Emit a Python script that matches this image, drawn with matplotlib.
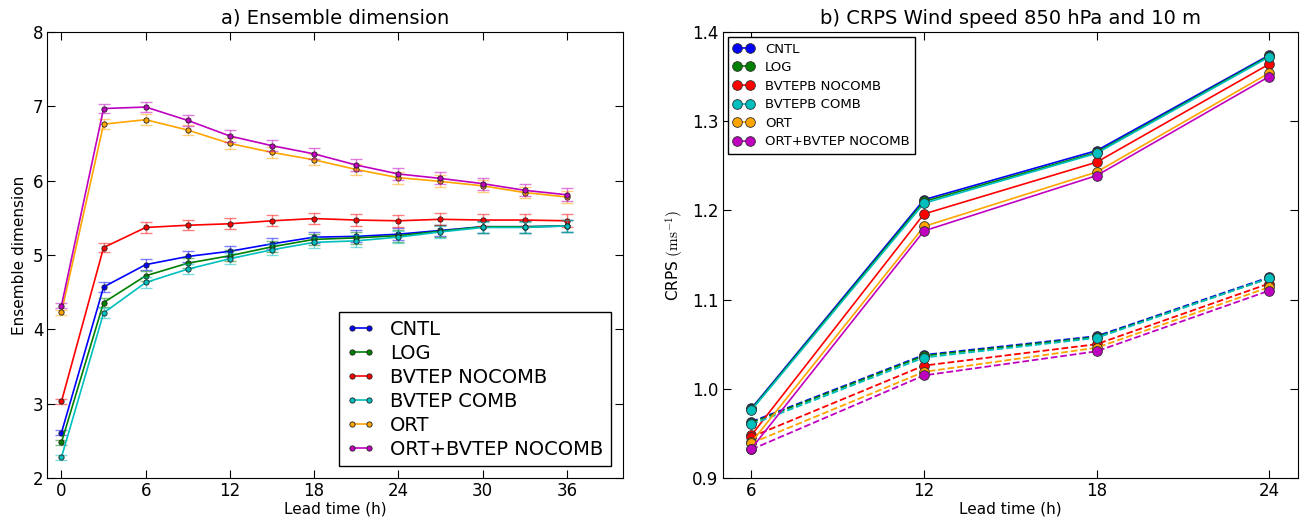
import matplotlib
matplotlib.use("Agg")
import matplotlib.pyplot as plt
import numpy as np

plt.rcParams['font.family'] = ['DejaVu Sans']
plt.rcParams['mathtext.fontset'] = 'cm'

# experiment names and colours
names_a = ["CNTL", "LOG", "BVTEP NOCOMB", "BVTEP COMB", "ORT", "ORT+BVTEP NOCOMB"]
names_b = ["CNTL", "LOG", "BVTEPB NOCOMB", "BVTEPB COMB", "ORT", "ORT+BVTEP NOCOMB"]
colors = ["#0000ff", "#008000", "#ff0000", "#00bfbf", "#ffa500", "#bf00bf"]

# a) ensemble dimension
lead_a = [0, 3, 6, 9, 12, 15, 18, 21, 24, 27, 30, 33, 36]
dim_cntl = [2.61, 4.57, 4.87, 4.98, 5.05, 5.15, 5.24, 5.25, 5.28, 5.33, 5.38, 5.38, 5.39]
dim_log = [2.48, 4.36, 4.72, 4.89, 4.99, 5.11, 5.21, 5.23, 5.26, 5.32, 5.38, 5.38, 5.39]
dim_bvtep_nocomb = [3.03, 5.10, 5.37, 5.40, 5.42, 5.46, 5.49, 5.47, 5.46, 5.48, 5.47, 5.47, 5.46]
dim_bvtep_comb = [2.28, 4.22, 4.63, 4.81, 4.95, 5.07, 5.17, 5.19, 5.24, 5.31, 5.37, 5.37, 5.39]
dim_ort = [4.23, 6.76, 6.82, 6.68, 6.50, 6.38, 6.28, 6.15, 6.04, 5.99, 5.93, 5.84, 5.78]
dim_ort_bvtep = [4.32, 6.97, 6.99, 6.81, 6.60, 6.47, 6.36, 6.21, 6.09, 6.03, 5.96, 5.87, 5.81]
dim_err = [0.035, 0.065, 0.07, 0.07, 0.075, 0.075, 0.075, 0.08, 0.08, 0.08, 0.08, 0.08, 0.085]

# b) CRPS, solid = 850 hPa, dashed = 10 m
lead_b = [6, 12, 18, 24]
crps_850 = {
    "CNTL": [0.978, 1.212, 1.267, 1.374],
    "LOG": [0.977, 1.210, 1.265, 1.373],
    "BVTEPB NOCOMB": [0.948, 1.196, 1.254, 1.364],
    "BVTEPB COMB": [0.976, 1.208, 1.264, 1.372],
    "ORT": [0.940, 1.182, 1.243, 1.354],
    "ORT+BVTEP NOCOMB": [0.933, 1.177, 1.239, 1.350],
}
crps_10m = {
    "CNTL": [0.963, 1.038, 1.059, 1.125],
    "LOG": [0.962, 1.037, 1.058, 1.124],
    "BVTEPB NOCOMB": [0.946, 1.026, 1.050, 1.118],
    "BVTEPB COMB": [0.960, 1.035, 1.057, 1.124],
    "ORT": [0.939, 1.019, 1.046, 1.114],
    "ORT+BVTEP NOCOMB": [0.932, 1.015, 1.042, 1.110],
}

dims = [dim_cntl, dim_log, dim_bvtep_nocomb, dim_bvtep_comb, dim_ort, dim_ort_bvtep]

fig = plt.figure(figsize=(13, 5.2), dpi=100)
ax1 = fig.add_axes([0.0365, 0.0808, 0.4427, 0.8577])
ax2 = fig.add_axes([0.5559, 0.0808, 0.4425, 0.8577])

for name, col, d in zip(names_a, colors, dims):
    ax1.errorbar(lead_a, d, yerr=dim_err, fmt='none', ecolor=col, alpha=0.5,
                 capsize=4.5, elinewidth=1.0, capthick=1.0)
    ax1.plot(lead_a, d, '-o', color=col, lw=1.2, ms=3.8, mec='#202020', mew=0.6,
             label=name)

ax1.set_xlim(-1, 40)
ax1.set_ylim(2, 8)
ax1.set_xticks([0, 6, 12, 18, 24, 30, 36])
ax1.set_yticks([2, 3, 4, 5, 6, 7, 8])
ax1.set_xlabel("Lead time (h)", fontsize=11, labelpad=1)
ax1.set_ylabel("Ensemble dimension", fontsize=11)
ax1.set_title("a) Ensemble dimension", fontsize=14)
ax1.legend(loc='lower right', fontsize=14, numpoints=2, handlelength=1.45,
           labelspacing=0.25, fancybox=False, edgecolor='black',
           framealpha=1, borderaxespad=0.6)

for name, col in zip(names_b, colors):
    ax2.plot(lead_b, crps_850[name], '-o', color=col, lw=1.2, ms=7,
             mec='#303030', mew=0.6, label=name)
    ax2.plot(lead_b, crps_10m[name], '--o', color=col, lw=1.3, ms=7,
             mec='#303030', mew=0.6)

ax2.set_xlim(5, 25)
ax2.set_ylim(0.9, 1.4)
ax2.set_xticks(lead_b)
ax2.set_yticks([0.9, 1.0, 1.1, 1.2, 1.3, 1.4])
ax2.set_yticklabels(["0.9", "1.0", "1.1", "1.2", "1.3", "1.4"])
ax2.set_xlabel("Lead time (h)", fontsize=11, labelpad=1)
ax2.set_ylabel(r"CRPS $(\mathrm{ms}^{-1})$", fontsize=11)
ax2.set_title("b) CRPS Wind speed 850 hPa and 10 m", fontsize=14)
ax2.legend(loc='upper left', fontsize=9.5, numpoints=2, handlelength=1.6,
           labelspacing=0.42, fancybox=False, edgecolor='black',
           framealpha=1, borderaxespad=0.4)

for ax in (ax1, ax2):
    ax.tick_params(direction='in', top=True, right=True, length=6,
                   labelsize=12, pad=3)

fig.savefig("out.png", dpi=100)
